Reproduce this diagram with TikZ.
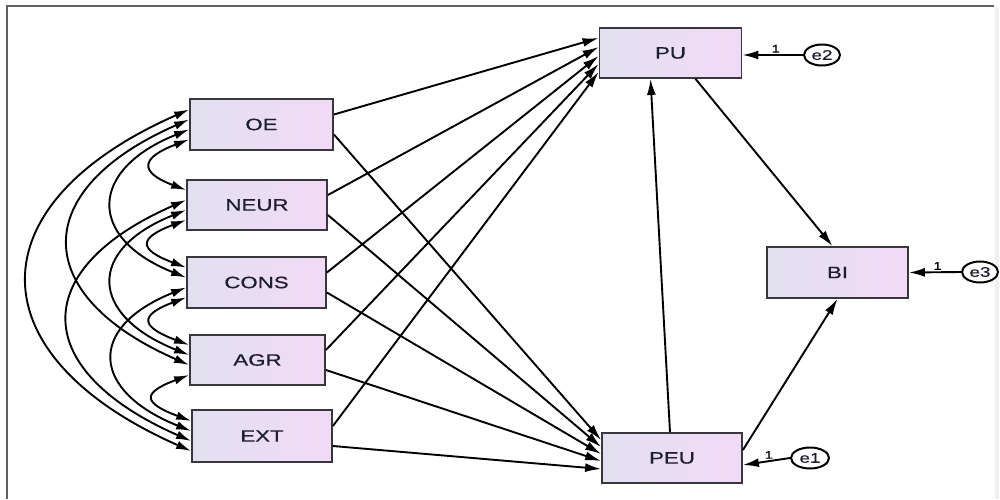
\documentclass[tikz,border=0pt]{standalone}
\usepackage{fontspec}
\setmainfont{Liberation Sans}
\newfontfamily\boxfont[FakeStretch=1.35,FakeBold=0.6]{Liberation Sans}
\usetikzlibrary{arrows.meta,calc,shapes.geometric}
\definecolor{boxL}{RGB}{226,224,240}
\definecolor{boxR}{RGB}{242,218,246}
\definecolor{boxline}{RGB}{55,55,60}
\definecolor{txt}{RGB}{30,30,50}
\definecolor{framec}{RGB}{95,95,95}
\newcommand\covar[6]{\draw[covline] ($(#1.west)+(0,#2)$) .. controls +(-#5,#6) and +(-#5,-#6) .. ($(#3.west)+(0,#4)$);}
\begin{document}
\begin{tikzpicture}[x=1pt,y=-1pt,
  var/.style={draw=boxline, line width=1.8pt, left color=boxL, right color=boxR,
    minimum width=140pt, minimum height=50pt, inner sep=0pt,
    font=\boxfont\fontsize{16.5}{18}\selectfont, text=txt},
  err/.style={ellipse, draw=black, line width=2pt, fill=white,
    minimum width=36pt, minimum height=21pt, inner sep=0pt,
    font=\boxfont\fontsize{14}{15}\selectfont, text=txt},
  reg/.style={draw=black, line width=1.9pt, -{Latex[length=16pt,width=9pt]}},
  covline/.style={draw=black, line width=1.9pt,
    {Latex[length=15pt,width=8.5pt]}-{Latex[length=15pt,width=8.5pt]}},
  one/.style={font=\boxfont\fontsize{11}{12}\selectfont, inner sep=1.5pt}]
\useasboundingbox (0,0) rectangle (1000,499);
\fill[white] (0,0) rectangle (1000,499);
\draw[framec, line width=2pt] (7,499) -- (7,6) -- (994,6);
\draw[gray!12, line width=4pt] (997,8) -- (997,499);

% nodes
\node[var, minimum width=143pt, minimum height=51pt] (OE) at (261.5,124.5) {OE};
\node[var] (NEUR) at (257,205) {NEUR};
\node[var, minimum width=139pt, minimum height=51pt] (CONS) at (256.5,282.5) {CONS};
\node[var, minimum width=135pt] (AGR) at (257.5,360) {AGR};
\node[var, minimum height=52pt] (EXT) at (262,436) {EXT};
\node[var, minimum width=142pt] (PU) at (670.5,53) {PU};
\node[var, minimum width=141pt, minimum height=51pt] (BI) at (837.5,272.5) {BI};
\node[var] (PEU) at (672,458) {PEU};
\node[err] (e2) at (822,55) {e2};
\node[err] (e3) at (980,272) {e3};
\node[err, minimum width=38pt] (e1) at (810,458) {e1};

% regressions from the five traits
\foreach \s/\a/\b in {OE/-15/-18, NEUR/-6/-11, CONS/3/-4, AGR/11/3, EXT/19/11} {
  \draw[reg] ($(\s.east)+(0,-10)$) -- ($(PU.west)+(0,\a)$);
  \draw[reg] ($(\s.east)+(0,10)$) -- ($(PEU.west)+(0,\b)$);
}
\draw[reg] ($(PEU.north)+(-2,0)$) -- ($(PU.south)+(-20,0)$);
\draw[reg] ($(PU.south)+(25,0)$) -- ($(BI.north)+(-5,0)$);
\draw[reg] ($(PEU.east)+(0,-8)$) -- (BI.south);

% error terms
\draw[reg] (e2.west) -- ($(PU.east)+(0,2)$) node[one, pos=0.45, above] {1};
\draw[reg] (e3.west) -- (BI.east) node[one, pos=0.45, above] {1};
\draw[reg] (e1.west) -- ($(PEU.east)+(0,7)$) node[one, pos=0.45, above] {1};

% covariances
\covar{OE}{-15}{EXT}{15}{216}{95}
\covar{OE}{-5}{AGR}{5}{160}{70}
\covar{OE}{5}{CONS}{-5}{100}{40}
\covar{OE}{15}{NEUR}{-15}{48}{18}
\covar{NEUR}{-5}{EXT}{5}{160}{70}
\covar{NEUR}{5}{AGR}{-5}{100}{40}
\covar{NEUR}{15}{CONS}{-15}{48}{18}
\covar{CONS}{5}{EXT}{-5}{100}{40}
\covar{CONS}{15}{AGR}{-15}{48}{18}
\covar{AGR}{15}{EXT}{-15}{48}{18}
\end{tikzpicture}
\end{document}
